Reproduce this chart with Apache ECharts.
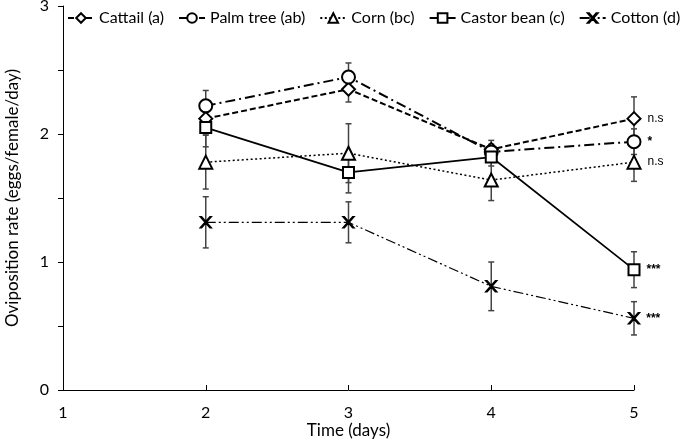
<!DOCTYPE html>
<html>
<head>
<meta charset="utf-8">
<script src="https://cdn.jsdelivr.net/npm/echarts@6/dist/echarts.min.js"></script>
<style>html,body{margin:0;padding:0;background:#fff}#c{width:685px;height:441px}</style>
</head>
<body>
<div id="c"></div>
<script>
var days = [2, 3, 4, 5];
var seriesNames = ['Cattail (a)', 'Palm tree (ab)', 'Corn (bc)', 'Castor bean (c)', 'Cotton (d)'];
var cattail = [2.12, 2.35, 1.88, 2.12];
var palmTree = [2.22, 2.445, 1.86, 1.94];
var corn = [1.78, 1.85, 1.64, 1.78];
var castorBean = [2.05, 1.70, 1.82, 0.94];
var cotton = [1.31, 1.31, 0.81, 0.56];
var cattailErr = [0.12, 0.10, 0.07, 0.17];
var palmTreeErr = [0.12, 0.11, 0.06, 0.10];
var cornErr = [0.21, 0.23, 0.16, 0.15];
var castorBeanErr = [0.15, 0.16, 0.07, 0.14];
var cottonErr = [0.20, 0.16, 0.19, 0.13];
var sigLabels = ['n.s', '*', 'n.s', '***', '***'];
var yTicks = [0, 1, 2, 3];
var xTicks = [1, 2, 3, 4, 5];

var values = [cattail, palmTree, corn, castorBean, cotton];
var errs = [cattailErr, palmTreeErr, cornErr, castorBeanErr, cottonErr];
var xPath = 'path://M0,0 L1.2,0 L5,4.3 L8.8,0 L10,0 L5.6,5 L10,10 L8.8,10 L5,5.7 L1.2,10 L0,10 L4.4,5 Z';
var styles = [
  {symbol: 'emptyDiamond', size: 13, line: {type: [6, 3], width: 2}},
  {symbol: 'emptyCircle', size: 13, line: {type: [10, 4, 2, 4], width: 2}},
  {symbol: 'emptyTriangle', size: 13, line: {type: [2, 2.5], width: 1.5}},
  {symbol: 'emptyRect', size: 11, line: {type: 'solid', width: 1.7}},
  {symbol: xPath, size: 11, line: {type: [10, 3, 2, 3, 2, 3], width: 1.2}}
];

var series = [];
values.forEach(function (vals, i) {
  var d = days.map(function (x, j) { return [x, vals[j], errs[i][j]]; });
  series.push({
    type: 'custom',
    name: seriesNames[i] + ' err',
    data: d,
    z: 1,
    silent: true,
    renderItem: function (params, api) {
      var x = api.value(0), v = api.value(1), e = api.value(2);
      var top = api.coord([x, v + e]);
      var bot = api.coord([x, v - e]);
      var st = {stroke: '#444', lineWidth: 1.5};
      return {
        type: 'group',
        children: [
          {type: 'line', shape: {x1: top[0], y1: top[1], x2: bot[0], y2: bot[1]}, style: st},
          {type: 'line', shape: {x1: top[0] - 3, y1: top[1], x2: top[0] + 3, y2: top[1]}, style: st},
          {type: 'line', shape: {x1: bot[0] - 3, y1: bot[1], x2: bot[0] + 3, y2: bot[1]}, style: st}
        ]
      };
    }
  });
});
values.forEach(function (vals, i) {
  var s = styles[i];
  series.push({
    type: 'line',
    name: seriesNames[i],
    data: days.map(function (x, j) { return [x, vals[j]]; }),
    z: 3,
    symbol: s.symbol,
    symbolSize: s.size,
    showAllSymbol: true,
    lineStyle: {color: '#000', type: s.line.type, width: s.line.width},
    itemStyle: {color: '#000', borderColor: '#000', borderWidth: 1.5},
    emphasis: {disabled: true},
    label: {
      show: true,
      position: 'right',
      distance: 6,
      color: '#000',
      fontFamily: 'Liberation Sans',
      fontSize: 12,
      fontWeight: i === 1 || i >= 3 ? 'bold' : 'normal',
      formatter: function (p) { return p.dataIndex === days.length - 1 ? sigLabels[i] : ''; }
    }
  });
});

var chart = echarts.init(document.getElementById('c'));
chart.setOption({
  animation: false,
  backgroundColor: '#fff',
  textStyle: {fontFamily: 'Lato'},
  grid: {left: 63, right: 51, top: 6, bottom: 51, containLabel: false, outerBoundsMode: 'none'},
  legend: {
    data: seriesNames,
    top: 5,
    left: 62,
    width: 623,
    itemWidth: 26,
    itemHeight: 12,
    itemGap: 14,
    textStyle: {fontFamily: 'Lato', fontSize: 16, color: '#000'},
    inactiveColor: '#000'
  },
  xAxis: {
    type: 'value', min: 1, max: 5, interval: 1,
    name: 'Time (days)', nameLocation: 'middle', nameGap: 32, nameMoveOverlap: false,
    nameTextStyle: {fontFamily: 'Lato', fontSize: 17, color: '#000'},
    axisLine: {lineStyle: {color: '#000', width: 1}},
    axisTick: {show: true, inside: true, length: 5, lineStyle: {color: '#000'}},
    axisLabel: {color: '#000', fontSize: 16, fontFamily: 'Lato', margin: 15,
      formatter: function (v) { return xTicks.indexOf(v) >= 0 ? String(v) : ''; }},
    splitLine: {show: false}
  },
  yAxis: {
    type: 'value', min: 0, max: 3, interval: 1,
    name: 'Oviposition rate (eggs/female/day)', nameLocation: 'middle', nameGap: 42,
    nameTextStyle: {fontFamily: 'Lato', fontSize: 17, color: '#000'},
    axisLine: {show: true, lineStyle: {color: '#000', width: 1}},
    axisTick: {show: true, length: 5, lineStyle: {color: '#000'}},
    minorTick: {show: true, splitNumber: 2, length: 5, lineStyle: {color: '#000'}},
    axisLabel: {color: '#000', fontSize: 16, fontFamily: 'Lato', margin: 14,
      formatter: function (v) { return yTicks.indexOf(v) >= 0 ? String(v) : ''; }},
    splitLine: {show: false}
  },
  series: series
});
</script>
</body>
</html>
